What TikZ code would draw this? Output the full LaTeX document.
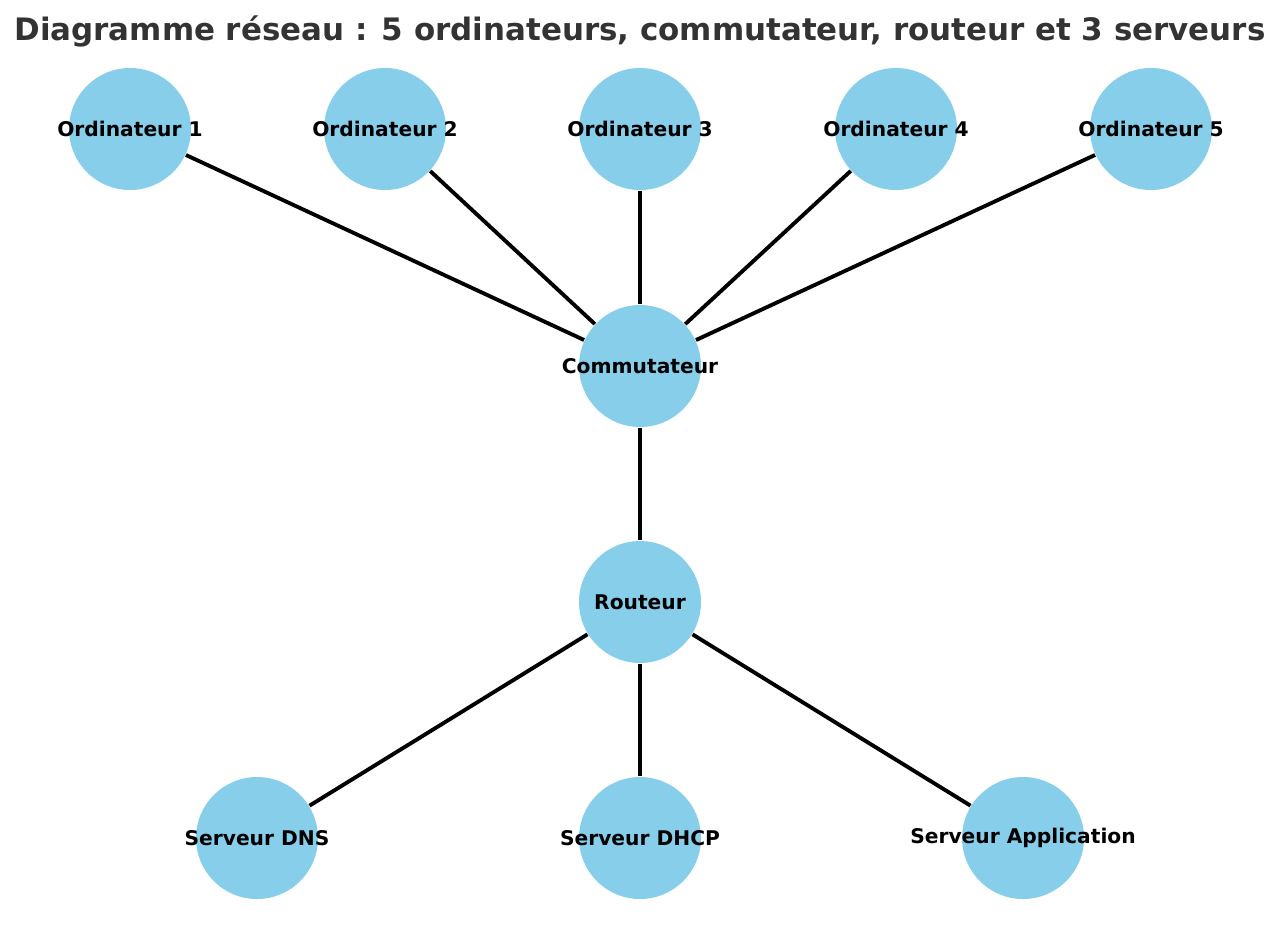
\documentclass[tikz,border=0pt]{standalone}
\usepackage{fontspec}
\setmainfont{DejaVu Sans}
\usepackage{tikz}
\usetikzlibrary{positioning}
\definecolor{skyblue}{HTML}{87CEEB}
\definecolor{titlegray}{HTML}{333333}
\begin{document}
\begin{tikzpicture}[x=1cm,y=1cm,
	machine/.style={circle, fill=skyblue, minimum size=1.22cm, inner sep=0pt,
		label={[font=\fontsize{5.75}{6}\selectfont\bfseries, text=black]center:#1}},
	link/.style={line width=1.1pt, black}]
	\useasboundingbox (0,0) rectangle (12.8,-9.29);
	
	\node[font=\fontsize{8.8}{10}\selectfont\bfseries, text=titlegray] (titre) at (6.4,-0.31)
		{Diagramme réseau : 5 ordinateurs, commutateur, routeur et 3 serveurs};
	
	% ordinateurs
	\foreach \i/\x in {1/1.30, 2/3.85, 3/6.40, 4/8.96, 5/11.51}
		\node[machine={Ordinateur \i}] (ord\i) at (\x,-1.29) {};
	
	\node[machine=Commutateur] (comm) at (6.40,-3.66) {};
	\node[machine=Routeur] (rout) at (6.40,-6.02) {};
	
	% serveurs
	\node[machine={Serveur DNS}] (dns) at (2.57,-8.38) {};
	\node[machine={Serveur DHCP}] (dhcp) at (6.40,-8.38) {};
	\node[machine={Serveur Application}] (app) at (10.23,-8.38) {};
	
	\foreach \i in {1,...,5}
		\draw[link] (ord\i) -- (comm);
	\draw[link] (comm) -- (rout);
	\foreach \s in {dns,dhcp,app}
		\draw[link] (rout) -- (\s);
\end{tikzpicture}
\end{document}
